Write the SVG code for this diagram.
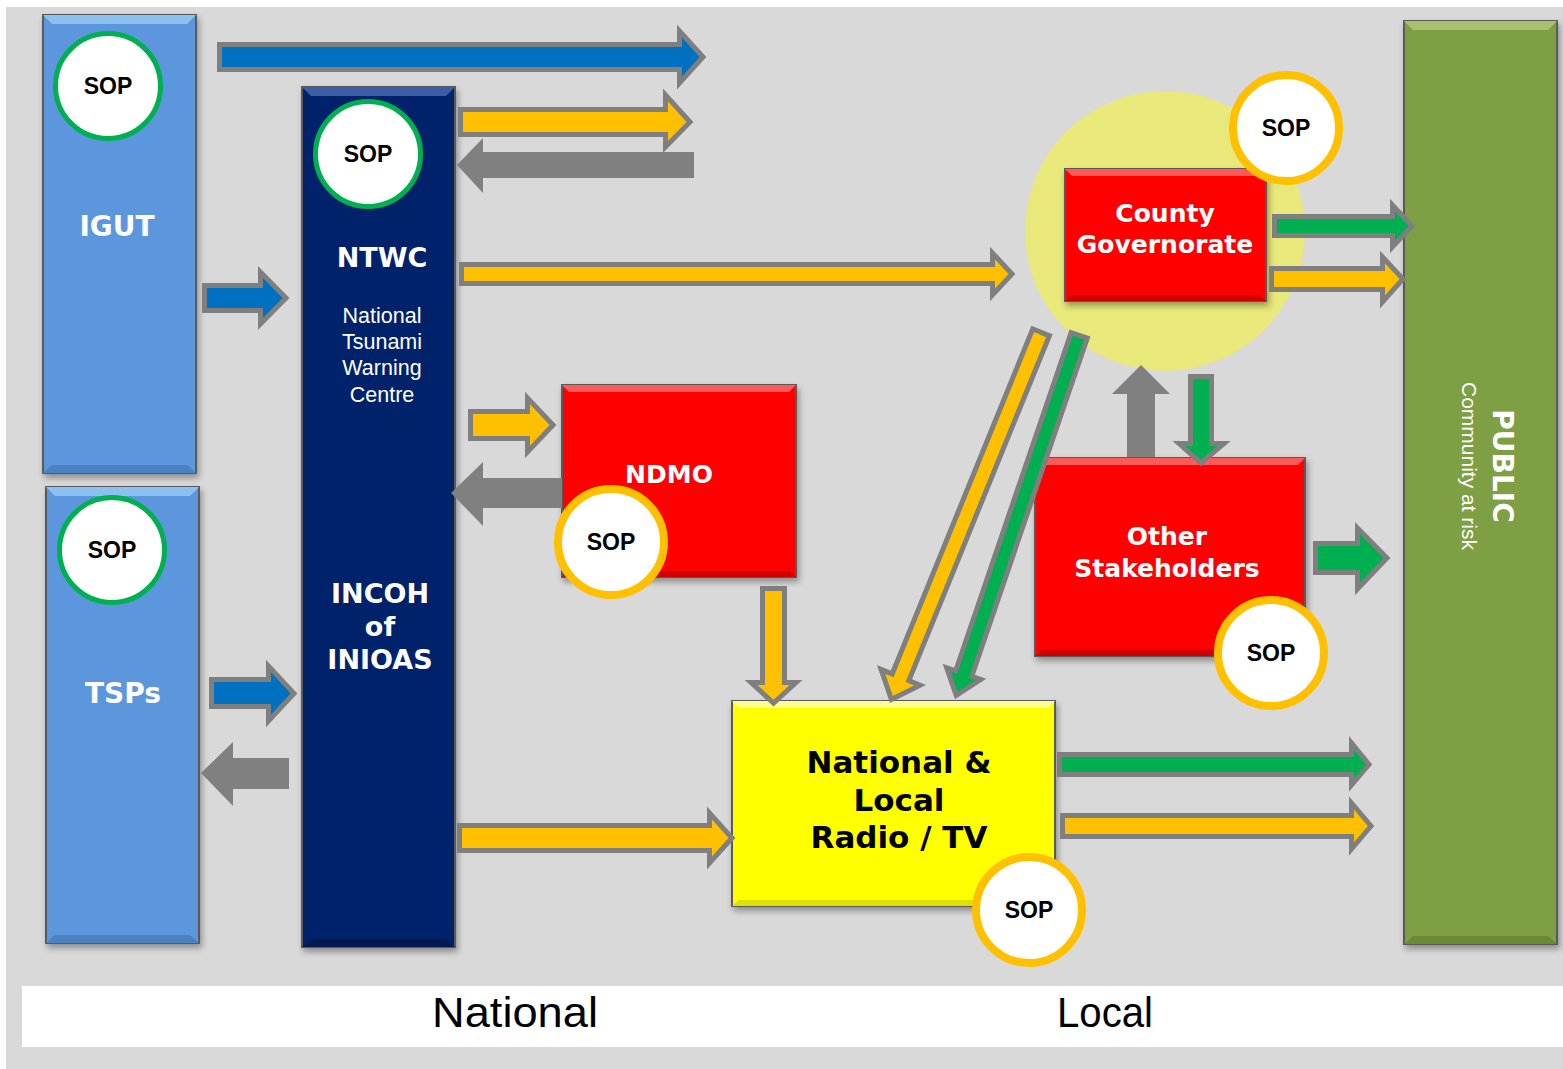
<svg xmlns="http://www.w3.org/2000/svg" width="1563" height="1069" viewBox="0 0 1563 1069">
<defs>
<filter id="sh" x="-10%" y="-10%" width="130%" height="130%">
<feDropShadow dx="2" dy="4" stdDeviation="3" flood-color="#000" flood-opacity="0.35"/>
</filter>
<style>
.box{stroke:#5a5a5a;stroke-width:2}
.lbl{font-family:"DejaVu Sans",Verdana,sans-serif;font-weight:bold;fill:#fff;text-anchor:middle}
.sub{font-family:"Liberation Sans",Arial,sans-serif;fill:#fff;text-anchor:middle}
.sopG{fill:#fff;stroke:#00b050;stroke-width:5}
.sopO{fill:#fff;stroke:#ffc000;stroke-width:8}
.sopT{font-family:"Liberation Sans",Arial,sans-serif;font-weight:bold;font-size:23px;fill:#000;text-anchor:middle}
.arr{stroke:#7f7f7f;stroke-width:5;stroke-linejoin:miter}
.blue{fill:#0070c0}
.yel{fill:#ffc000}
.grn{fill:#00b050}
.gry{fill:#808080}
.foot{font-family:"Liberation Sans",Arial,sans-serif;font-size:43px;fill:#000;text-anchor:middle}
</style>
</defs>
<rect width="1563" height="1069" fill="#fff"/>
<rect x="6" y="7" width="1557" height="1062" fill="#d9d9d9"/>
<rect x="22" y="986" width="1541" height="61" fill="#fff"/>
<text class="foot" x="515" y="1027" textLength="166" lengthAdjust="spacingAndGlyphs">National</text>
<text class="foot" x="1105" y="1027" textLength="96" lengthAdjust="spacingAndGlyphs">Local</text>

<g id="igut">
<rect class="box" x="43" y="15" width="153" height="458" fill="#5b97dd" filter="url(#sh)"/>
<polygon points="43,15 196,15 187,24 52,24" fill="#8cc0f0"/>
<polygon points="43,473 196,473 187,465 52,465" fill="#4a82c4"/>
<circle class="sopG" cx="108" cy="86" r="52.5"/>
<text class="sopT" x="108" y="94">SOP</text>
<text class="lbl" x="117" y="236" font-size="28">IGUT</text>
</g>

<g id="tsps">
<rect class="box" x="46" y="487" width="153" height="456" fill="#5b97dd" filter="url(#sh)"/>
<polygon points="46,487 199,487 190,496 55,496" fill="#8cc0f0"/>
<polygon points="46,943 199,943 190,935 55,935" fill="#4a82c4"/>
<circle class="sopG" cx="112" cy="550" r="52.5"/>
<text class="sopT" x="112" y="558">SOP</text>
<text class="lbl" x="123" y="703" font-size="28">TSPs</text>
</g>

<g id="ntwc">
<rect class="box" x="302" y="87" width="153" height="860" fill="#04246a" filter="url(#sh)"/>
<polygon points="302,87 455,87 446,96 311,96" fill="#3d5ea6"/>
<polygon points="302,947 455,947 446,939 311,939" fill="#021a50"/>
<circle class="sopG" cx="368" cy="154" r="52.5"/>
<text class="sopT" x="368" y="162">SOP</text>
<text class="lbl" x="382" y="267" font-size="27">NTWC</text>
<text class="sub" font-size="21.5"><tspan x="382" y="323">National</tspan><tspan x="382" y="349">Tsunami</tspan><tspan x="382" y="375">Warning</tspan><tspan x="382" y="402">Centre</tspan></text>
<text class="lbl" font-size="27"><tspan x="380" y="603">INCOH</tspan><tspan x="380" y="636">of</tspan><tspan x="380" y="669">INIOAS</tspan></text>
</g>

<g id="public">
<rect class="box" x="1404" y="21" width="153" height="923" fill="#7f9f44" filter="url(#sh)"/>
<polygon points="1404,21 1557,21 1548,30 1413,30" fill="#a6c26e"/>
<polygon points="1404,944 1557,944 1548,936 1413,936" fill="#6a8a36"/>
<text class="lbl" font-size="28" transform="translate(1493,466) rotate(90)" x="0" y="0">PUBLIC</text>
<text class="sub" font-size="21" transform="translate(1462,466) rotate(90)" x="0" y="0">Community at risk</text>
</g>

<g id="ndmo">
<rect class="box" x="562" y="385" width="234" height="192" fill="#ff0000" filter="url(#sh)"/>
<polygon points="562,385 796,385 789,392 569,392" fill="#ff5a5a"/>
<polygon points="562,577 796,577 789,571 569,571" fill="#d00000"/>
<text class="lbl" x="669" y="483" font-size="25">NDMO</text>
<circle class="sopO" cx="611" cy="542" r="53"/>
<text class="sopT" x="611" y="550">SOP</text>
</g>

<g id="county">
<circle cx="1165" cy="231" r="140" fill="#e9e87a"/>
<rect class="box" x="1065" y="169" width="201" height="132" fill="#ff0000" filter="url(#sh)"/>
<polygon points="1065,169 1266,169 1259,176 1072,176" fill="#ff5a5a"/>
<polygon points="1065,301 1266,301 1259,295 1072,295" fill="#d00000"/>
<text class="lbl" font-size="25"><tspan x="1165" y="222">County</tspan><tspan x="1165" y="253">Governorate</tspan></text>
<circle class="sopO" cx="1286" cy="128" r="53"/>
<text class="sopT" x="1286" y="136">SOP</text>
</g>

<g id="other">
<rect class="box" x="1035" y="458" width="270" height="198" fill="#ff0000" filter="url(#sh)"/>
<polygon points="1035,458 1305,458 1298,465 1042,465" fill="#ff5a5a"/>
<polygon points="1035,656 1305,656 1298,650 1042,650" fill="#d00000"/>
<text class="lbl" font-size="25"><tspan x="1167" y="545">Other</tspan><tspan x="1167" y="577">Stakeholders</tspan></text>
<circle class="sopO" cx="1271" cy="653" r="53"/>
<text class="sopT" x="1271" y="661">SOP</text>
</g>

<g id="radio">
<rect class="box" x="732" y="701" width="323" height="205" fill="#ffff00" filter="url(#sh)"/>
<polygon points="732,701 1055,701 1048,708 739,708" fill="#ffff90"/>
<polygon points="732,906 1055,906 1048,900 739,900" fill="#e0e000"/>
<text class="lbl" font-size="31" fill="#000" style="fill:#000"><tspan x="899" y="773">National &amp;</tspan><tspan x="899" y="811">Local</tspan><tspan x="899" y="848">Radio / TV</tspan></text>
<circle class="sopO" cx="1029" cy="910" r="53"/>
<text class="sopT" x="1029" y="918">SOP</text>
</g>

<g id="connectors">
<path class="arr blue" d="M219.5,44.5 H679.5 V31 L703,57 L679.5,83 V69.5 H219.5 Z"/>
<path class="arr blue" d="M204.5,285.5 H260.5 V272 L286,298 L260.5,324 V310.5 H204.5 Z"/>
<path class="arr blue" d="M211.5,679.5 H268.5 V666 L294,693.5 L268.5,721 V706.5 H211.5 Z"/>
<path class="gry" d="M201,773 L233,742 V758 H289 V789 H233 V806 Z"/>
<path class="arr yel" d="M459.5,825.5 H709.5 V813 L732,838 L709.5,863 V850.5 H459.5 Z"/>
<path class="arr yel" d="M460.5,109.5 H665.5 V95 L690,122 L665.5,147 V134.5 H460.5 Z"/>
<path class="gry" d="M457,165 L483,138 V152 H694 V178 H483 V193 Z"/>
<path class="arr yel" d="M461.5,264.5 H992.5 V253 L1012,274 L992.5,295 V283.5 H461.5 Z"/>
<path class="arr yel" d="M470.5,411.5 H527.5 V398 L553,425 L527.5,452 V438.5 H470.5 Z"/>
<path class="gry" d="M451,493 L483,462 V478 H562 V508 H483 V526 Z"/>
<path class="arr yel" d="M762.5,588.5 V682.5 H751 L773.5,703 L796,682.5 H784.5 V588.5 Z"/>
<path class="arr grn" d="M1274.5,216.5 H1392.5 V205 L1412,226 L1392.5,247 V235.5 H1274.5 Z"/>
<path class="arr yel" d="M1271.5,268.5 H1382.5 V257 L1403,279 L1382.5,302 V289.5 H1271.5 Z"/>
<path class="gry" d="M1127,457 V394 H1112 L1141,365 L1170,394 H1155 V457 Z"/>
<path class="arr grn" d="M1190.5,376.5 V443.5 H1179 L1201,463 L1224,443.5 H1211.5 V376.5 Z"/>
<path class="arr grn" d="M1315.5,543.5 H1357.5 V528 L1387,558 L1357.5,589 V572.5 H1315.5 Z"/>
<path class="arr grn" d="M1059.5,754.5 H1351.5 V743 L1369,764.5 L1351.5,785 V774.5 H1059.5 Z"/>
<path class="arr yel" d="M1062.5,815.5 H1351.5 V803 L1371,826 L1351.5,849 V836.5 H1062.5 Z"/>
<path class="arr yel" transform="translate(1042,330) rotate(112.17)" d="M2.5,-9 H375 V-21 L399,0 L375,21 V9 H2.5 Z"/>
<path class="arr grn" transform="translate(1080,333) rotate(108.85)" d="M2.5,-8.5 H360 V-18 L383,0 L360,18 V8.5 H2.5 Z"/>
</g>
</svg>
